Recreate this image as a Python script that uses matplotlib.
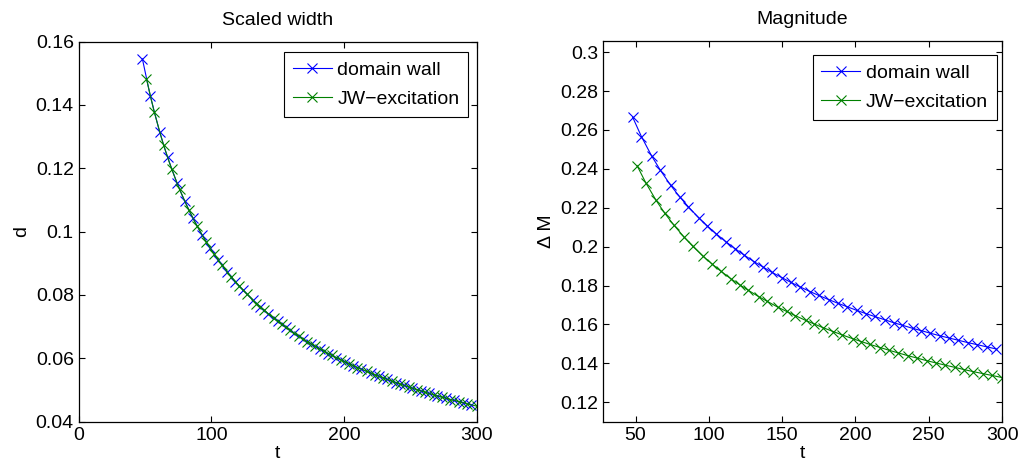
import matplotlib
matplotlib.use("Agg")
import matplotlib.pyplot as plt

# data
t_dw = [48, 54, 61, 67, 74, 80, 86, 93, 99, 105, 112, 118, 124, 131, 137, 143,
        150, 156, 162, 169, 175, 182, 188, 194, 201, 207, 213, 220, 226, 232,
        239, 245, 251, 258, 264, 270, 277, 283, 290, 296]
t_jw = [51, 57, 64, 70, 76, 83, 89, 96, 102, 108, 115, 121, 127, 134, 140, 147,
        153, 159, 166, 172, 178, 185, 191, 198, 204, 210, 217, 223, 229, 236,
        242, 249, 255, 261, 268, 274, 280, 287, 293, 300]

d_dw = [0.1545, 0.1427, 0.1314, 0.1234, 0.1154, 0.1095, 0.1043, 0.0989, 0.0948,
        0.0911, 0.0872, 0.0842, 0.0815, 0.0785, 0.0762, 0.0740, 0.0717, 0.0698,
        0.0680, 0.0661, 0.0646, 0.0629, 0.0615, 0.0602, 0.0588, 0.0577, 0.0566,
        0.0553, 0.0544, 0.0534, 0.0523, 0.0515, 0.0506, 0.0497, 0.0489, 0.0482,
        0.0474, 0.0467, 0.0459, 0.0453]
d_jw = [0.1483, 0.1376, 0.1272, 0.1198, 0.1133, 0.1068, 0.1019, 0.0968, 0.0929,
        0.0894, 0.0857, 0.0828, 0.0802, 0.0773, 0.0751, 0.0726, 0.0707, 0.0689,
        0.0669, 0.0653, 0.0638, 0.0622, 0.0609, 0.0594, 0.0582, 0.0571, 0.0559,
        0.0548, 0.0539, 0.0528, 0.0519, 0.0509, 0.0501, 0.0493, 0.0484, 0.0477,
        0.0470, 0.0463, 0.0456, 0.0449]

dm_dw = [0.2666, 0.2566, 0.2466, 0.2392, 0.2315, 0.2257, 0.2205, 0.2149, 0.2106,
         0.2066, 0.2023, 0.1989, 0.1957, 0.1922, 0.1895, 0.1868, 0.1840, 0.1816,
         0.1794, 0.1769, 0.1749, 0.1727, 0.1709, 0.1692, 0.1672, 0.1656, 0.1641,
         0.1624, 0.1609, 0.1596, 0.1580, 0.1568, 0.1555, 0.1541, 0.1530, 0.1519,
         0.1506, 0.1496, 0.1484, 0.1474]
dm_jw = [0.2417, 0.2328, 0.2238, 0.2171, 0.2112, 0.2050, 0.2002, 0.1951, 0.1912,
         0.1875, 0.1835, 0.1804, 0.1775, 0.1743, 0.1718, 0.1689, 0.1667, 0.1645,
         0.1621, 0.1602, 0.1583, 0.1563, 0.1546, 0.1527, 0.1512, 0.1497, 0.1481,
         0.1467, 0.1454, 0.1439, 0.1427, 0.1413, 0.1402, 0.1391, 0.1379, 0.1368,
         0.1358, 0.1347, 0.1338, 0.1327]

labels = ["domain wall", "JW\u2212excitation"]

plt.rcParams['font.family'] = ['Liberation Sans', 'DejaVu Sans']
plt.rcParams['font.size'] = 14
plt.rcParams['xtick.direction'] = 'in'
plt.rcParams['ytick.direction'] = 'in'
plt.rcParams['xtick.top'] = True
plt.rcParams['ytick.right'] = True
plt.rcParams['xtick.major.size'] = 4
plt.rcParams['ytick.major.size'] = 4
plt.rcParams['axes.linewidth'] = 0.9

blue = (0, 0, 1)
green = (0, 0.5, 0)

fig = plt.figure(figsize=(10.25, 4.69), dpi=100)
ax1 = fig.add_axes([0.0768, 0.1009, 0.3883, 0.8106])
ax2 = fig.add_axes([0.5886, 0.1009, 0.3890, 0.8115])


def draw(ax, xa, ya, xb, yb, anchor):
    ax.plot(xa, ya, '-x', color=blue, lw=0.8, ms=6.5, mew=0.8, label=labels[0])
    ax.plot(xb, yb, '-x', color=green, lw=0.8, ms=6.5, mew=0.8, label=labels[1])
    leg = ax.legend(loc='upper right', bbox_to_anchor=anchor,
                    borderaxespad=0, fancybox=False, framealpha=1,
                    edgecolor='black', numpoints=1, handlelength=2.0,
                    handletextpad=0.3, labelspacing=0.6, borderpad=0.45)
    leg.get_frame().set_linewidth(0.8)
    ax.set_xlabel('t', labelpad=1)


draw(ax1, t_dw, d_dw, t_jw, d_jw, (0.979, 0.972))
ax1.set_xlim(0, 300)
ax1.set_ylim(0.04, 0.16)
ax1.set_xticks([0, 100, 200, 300])
ax1.set_yticks([0.04, 0.06, 0.08, 0.1, 0.12, 0.14, 0.16])
ax1.set_yticklabels(['0.04', '0.06', '0.08', '0.1', '0.12', '0.14', '0.16'])
ax1.set_ylabel('d')
ax1.set_title('Scaled width', fontsize=14, pad=12)

draw(ax2, t_dw, dm_dw, t_jw, dm_jw, (0.987, 0.963))
ax2.set_xlim(28, 300)
ax2.set_ylim(0.11, 0.3057)
ax2.set_xticks([50, 100, 150, 200, 250, 300])
ax2.set_yticks([0.12, 0.14, 0.16, 0.18, 0.2, 0.22, 0.24, 0.26, 0.28, 0.3])
ax2.set_yticklabels(['0.12', '0.14', '0.16', '0.18', '0.2', '0.22', '0.24',
                     '0.26', '0.28', '0.3'])
ax2.set_ylabel('\u0394 M')
ax2.set_title('Magnitude', fontsize=14, pad=12)

fig.savefig('out.png', dpi=100)
